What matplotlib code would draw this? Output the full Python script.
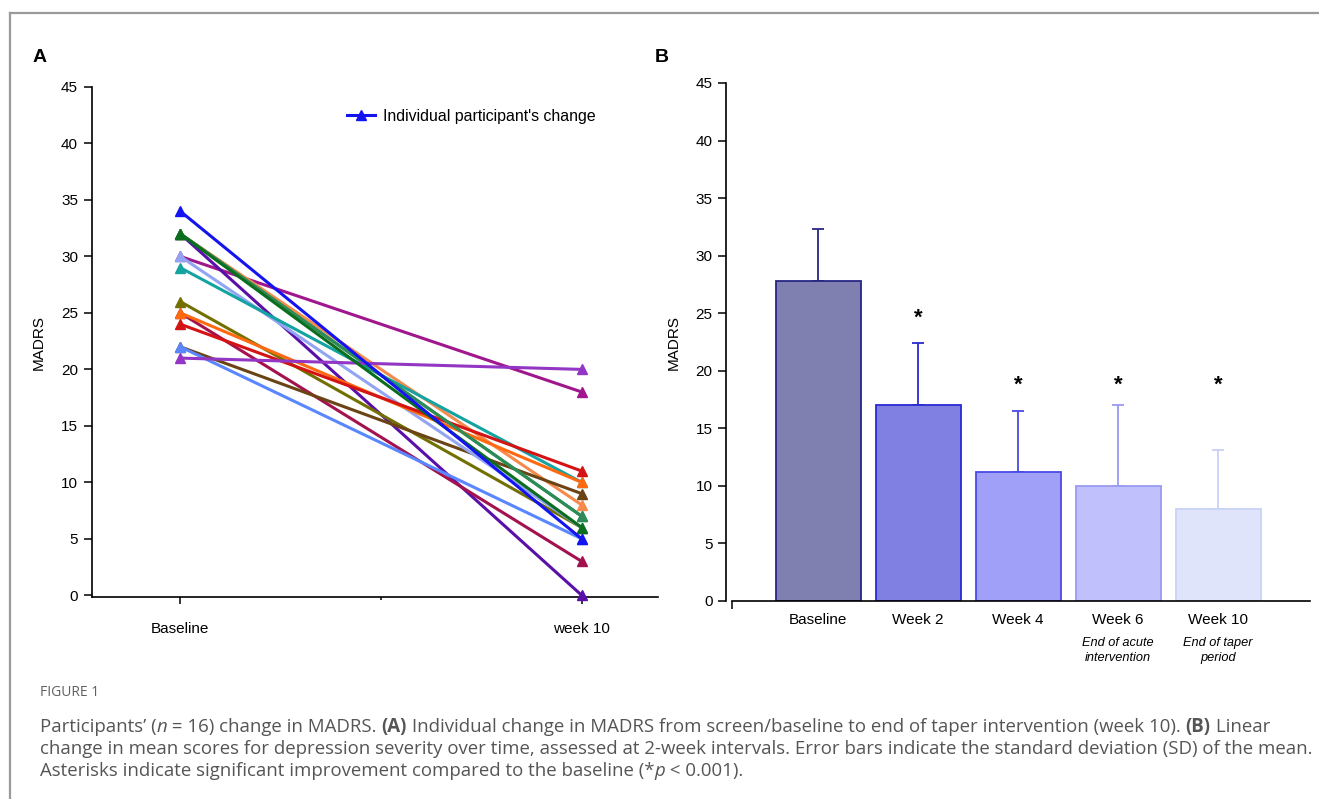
import matplotlib
matplotlib.use("Agg")
import matplotlib.pyplot as plt
from matplotlib.lines import Line2D
import numpy as np

# ---------------- data ----------------
timepoints_a = ["Baseline", "week 10"]
baseline_scores = [30, 32, 32, 25, 26, 22, 30, 29, 32, 25, 24, 22, 32, 21, 32, 34]
week10_scores   = [18, 0, 8, 3, 6, 9, 6, 10, 7, 10, 11, 5, 7, 20, 6, 5]
participant_colors = ["#a0168c", "#5a10a8", "#f58a4c", "#a3124e", "#727000",
                      "#6a4414", "#92a4f4", "#14a3a0", "#10954a", "#ff6a10",
                      "#d41414", "#5a86ff", "#2e8b57", "#9336c4", "#0b6e1e",
                      "#1414f0"]

bar_categories = ["Baseline", "Week 2", "Week 4", "Week 6", "Week 10"]
bar_sublabels = ["", "", "", "End of acute\nintervention", "End of taper\nperiod"]
bar_means = [27.8, 17.0, 11.2, 10.0, 8.0]
bar_sd = [4.5, 5.4, 5.3, 7.0, 5.1]
significant = [False, True, True, True, True]
asterisk_y = [np.nan, 24.8, 19.0, 19.0, 19.0]
bar_fill = ["#8080b0", "#8080e2", "#a0a0f8", "#c0c0fc", "#dfe4fa"]
bar_edge = ["#262684", "#2a2ad2", "#4a4ae6", "#9a9af2", "#c8d2f8"]
y_ticks = [0, 5, 10, 15, 20, 25, 30, 35, 40, 45]

W, H = 1319, 799
fig = plt.figure(figsize=(W / 100, H / 100), dpi=100)
FONT = "Liberation Sans"
plt.rcParams["font.family"] = [FONT, "DejaVu Sans"]

def fx(px):
    return px / W

def fy(py):
    return 1 - py / H

# frame
fig.add_artist(Line2D([fx(10), fx(10)], [fy(799), fy(13)], color="#9a9a9a", lw=1.6))
fig.add_artist(Line2D([fx(10), fx(1319)], [fy(13), fy(13)], color="#9a9a9a", lw=1.6))

# ---------------- panel A ----------------
axA = fig.add_axes([fx(92), fy(597), fx(658 - 92), fy(87) - fy(597)])
xA = np.arange(len(timepoints_a))
for i, (b, w, c) in enumerate(zip(baseline_scores, week10_scores, participant_colors)):
    lab = "Individual participant's change" if i == len(baseline_scores) - 1 else None
    axA.plot(xA, [b, w], color=c, lw=2.2, marker="^", ms=7, label=lab,
             clip_on=False, zorder=3)
axA.set_xlim(-0.22, 1.19)
axA.set_ylim(-0.15, 45)
axA.set_yticks(y_ticks)
axA.set_xticks(xA)
axA.set_xticklabels(timepoints_a)
axA.set_xticks([0.5], minor=True)
axA.tick_params(axis="x", which="major", length=5, width=1.1, pad=13, labelsize=11)
axA.tick_params(axis="x", which="minor", length=2, width=1.1)
axA.tick_params(axis="y", length=6, width=1.1, pad=4, labelsize=11)
for s in ["top", "right"]:
    axA.spines[s].set_visible(False)
for s in ["left", "bottom"]:
    axA.spines[s].set_linewidth(1.2)
axA.set_ylabel("MADRS", fontsize=11, labelpad=11)
axA.legend(loc="center left", bbox_to_anchor=(fx(347), fy(116)),
           bbox_transform=fig.transFigure, frameon=False, borderpad=0,
           borderaxespad=0, handlelength=1.75, handletextpad=0.5, fontsize=11.4)

# ---------------- panel B ----------------
axB = fig.add_axes([fx(732), fy(601), fx(1310 - 732), fy(83) - fy(601)])
xB = np.arange(len(bar_categories))
axB.bar(xB, bar_means, width=0.85, color=bar_fill, edgecolor=bar_edge,
        linewidth=1.3, zorder=2)
for i in range(len(xB)):
    axB.errorbar(xB[i], bar_means[i], yerr=[[0], [bar_sd[i]]], fmt="none",
                 ecolor=bar_edge[i], elinewidth=1.3, capsize=4.5, capthick=1.3,
                 zorder=1)
    if significant[i]:
        axB.annotate("*", xy=(xB[i], asterisk_y[i]), xytext=(0, -6),
                     textcoords="offset points", ha="center", va="baseline",
                     fontsize=16, fontweight="bold")
axB.set_xlim(-0.86, 4.92)
axB.set_ylim(0, 45)
axB.set_yticks(y_ticks)
axB.set_xticks(xB)
axB.set_xticklabels(bar_categories)
axB.set_xticks([-0.86], minor=True)
axB.tick_params(axis="x", which="major", length=0, pad=9, labelsize=11)
axB.tick_params(axis="x", which="minor", length=6, width=1.1)
axB.tick_params(axis="y", length=6, width=1.1, pad=4, labelsize=11)
for s in ["top", "right"]:
    axB.spines[s].set_visible(False)
axB.spines["left"].set_position(("outward", 4))
for s in ["left", "bottom"]:
    axB.spines[s].set_linewidth(1.2)
axB.set_ylabel("MADRS", fontsize=11, labelpad=11)
for i, sub in enumerate(bar_sublabels):
    if sub:
        axB.annotate(sub, xy=(xB[i], 0), xycoords=("data", "axes fraction"),
                     xytext=(0, -26), textcoords="offset points", ha="center",
                     va="top", fontsize=9.2, fontstyle="italic", linespacing=1.3)

# panel letters
fig.text(fx(33), fy(57), "A", fontsize=14, fontweight="bold", va="center")
fig.text(fx(655), fy(57), "B", fontsize=14, fontweight="bold", va="center")

# ---------------- caption ----------------
CAP = "Open Sans"
cap_color = "#555555"
fig.text(fx(40), fy(693), "FIGURE 1", fontsize=10, color="#606060",
         family=[CAP, "DejaVu Sans"], va="center")

renderer = fig.canvas.get_renderer()

def runs(x0, y0, parts, size=13.4):
    x = x0
    for txt, style in parts:
        kw = dict(fontsize=size, color=cap_color, family=[CAP, "DejaVu Sans"],
                  va="baseline", ha="left")
        if style == "i":
            kw["fontstyle"] = "italic"
        elif style == "b":
            kw["fontweight"] = "bold"
        t = fig.text(x / W, 1 - y0 / H, txt, **kw)
        bb = t.get_window_extent(renderer=renderer)
        x += bb.width

runs(40, 732, [("Participants\u2019 (", ""), ("n", "i"), (" = 16) change in MADRS. ", ""),
               ("(A)", "b"),
               (" Individual change in MADRS from screen/baseline to end of taper intervention (week 10). ", ""),
               ("(B)", "b"), (" Linear", "")])
runs(40, 754, [("change in mean scores for depression severity over time, assessed at 2-week intervals. "
                "Error bars indicate the standard deviation (SD) of the mean.", "")])
runs(40, 776, [("Asterisks indicate significant improvement compared to the baseline (*", ""),
               ("p", "i"), (" < 0.001).", "")])

fig.savefig("out.png", dpi=100)
